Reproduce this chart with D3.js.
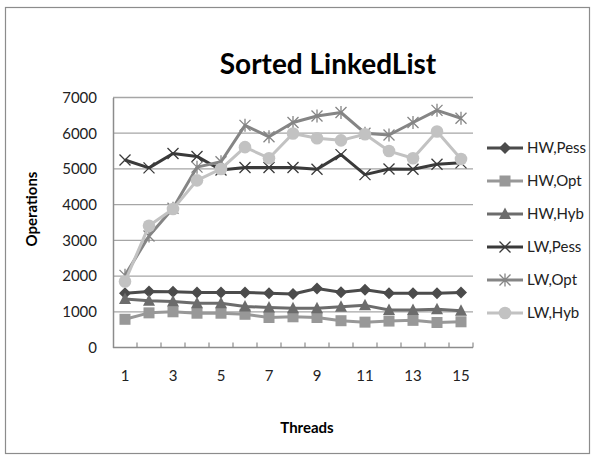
<!DOCTYPE html>
<html>
<head>
<meta charset="utf-8">
<script src="https://cdn.jsdelivr.net/npm/d3@7"></script>
<style>
  body { margin: 0; background: #fff; }
  svg { display: block; font-family: Lato, "Open Sans", sans-serif; }
</style>
</head>
<body>
<svg id="chart" width="595" height="456"></svg>
<script>
// Thread counts (x categories)
const threads = [1, 2, 3, 4, 5, 6, 7, 8, 9, 10, 11, 12, 13, 14, 15];
const xTickLabels = [1, 3, 5, 7, 9, 11, 13, 15];
const yTicks = [0, 1000, 2000, 3000, 4000, 5000, 6000, 7000];

// Operations per series
const hwPess = [1520, 1570, 1560, 1540, 1540, 1540, 1520, 1500, 1650, 1550, 1620, 1520, 1520, 1520, 1540];
const hwOpt  = [790, 970, 1000, 960, 960, 930, 840, 860, 840, 750, 710, 740, 760, 700, 720];
const hwHyb  = [1360, 1310, 1290, 1240, 1240, 1150, 1120, 1100, 1100, 1140, 1180, 1050, 1050, 1070, 1030];
const lwPess = [5250, 5030, 5430, 5350, 4970, 5040, 5040, 5040, 4990, 5400, 4840, 5000, 4990, 5130, 5170];
const lwOpt  = [2020, 3120, 3900, 5050, 5200, 6220, 5900, 6300, 6480, 6580, 6000, 5950, 6300, 6640, 6420];
const lwHyb  = [1850, 3410, 3880, 4680, 5000, 5610, 5300, 5990, 5860, 5800, 5970, 5500, 5300, 6050, 5280];

const seriesNames = ["HW,Pess", "HW,Opt", "HW,Hyb", "LW,Pess", "LW,Opt", "LW,Hyb"];
const seriesValues = [hwPess, hwOpt, hwHyb, lwPess, lwOpt, lwHyb];
const seriesColors = ["#4b4b4b", "#989898", "#6c6c6c", "#3a3a3a", "#858585", "#c2c2c2"];
const seriesMarkers = ["diamond", "square", "triangle", "x", "asterisk", "circle"];

const svg = d3.select("#chart");

// Outer chart frame
svg.append("rect")
  .attr("x", 5.5).attr("y", 7.5).attr("width", 584).attr("height", 446)
  .attr("fill", "#fff").attr("stroke", "#8c8c8c").attr("stroke-width", 1.2);

const plot = { left: 113, right: 473, top: 97.5, bottom: 347.5 };

const x = d3.scaleBand().domain(threads).range([plot.left, plot.right]);
const y = d3.scaleLinear().domain([0, 7000]).range([plot.bottom, plot.top]);
const cx = d => x(d) + x.bandwidth() / 2;

// Horizontal gridlines
svg.append("g")
  .selectAll("line").data(yTicks.filter(t => t > 0)).join("line")
  .attr("x1", plot.left).attr("x2", plot.right)
  .attr("y1", d => y(d)).attr("y2", d => y(d))
  .attr("stroke", "#a6a6a6").attr("stroke-width", 1.3);

// Y axis labels
const yAxis = d3.axisLeft(y).tickValues(yTicks).tickSize(0).tickPadding(16).tickFormat(d3.format("d"));
const yg = svg.append("g").attr("transform", `translate(${plot.left},0)`).call(yAxis);
yg.select(".domain").attr("stroke", "#8c8c8c").attr("stroke-width", 1.5);
yg.selectAll("text").attr("font-size", 15).attr("fill", "#222").attr("font-family", "Lato, sans-serif");

// X axis: ticks between categories pointing into the plot
const xg = svg.append("g").attr("transform", `translate(0,${plot.bottom})`);
xg.append("line").attr("x1", plot.left).attr("x2", plot.right).attr("y1", 0).attr("y2", 0)
  .attr("stroke", "#8c8c8c").attr("stroke-width", 1.5);
xg.selectAll("line.tick").data(threads).join("line").attr("class", "tick")
  .attr("x1", d => x(d) + x.bandwidth()).attr("x2", d => x(d) + x.bandwidth())
  .attr("y1", 0).attr("y2", -5)
  .attr("stroke", "#8c8c8c").attr("stroke-width", 1.2);
xg.selectAll("text").data(xTickLabels).join("text")
  .attr("x", d => cx(d)).attr("y", 33)
  .attr("text-anchor", "middle").attr("font-size", 15).attr("fill", "#222")
  .text(d => d);

// Titles
svg.append("text").attr("x", 328).attr("y", 74).attr("text-anchor", "middle")
  .attr("font-size", 28).attr("font-weight", "bold").attr("fill", "#000")
  .text("Sorted LinkedList");
svg.append("text").attr("x", 307).attr("y", 433).attr("text-anchor", "middle")
  .attr("font-size", 15).attr("font-weight", "bold").attr("fill", "#000")
  .text("Threads");
svg.append("text").attr("transform", "translate(37,209) rotate(-90)").attr("text-anchor", "middle")
  .attr("font-size", 15).attr("font-weight", "bold").attr("fill", "#000")
  .text("Operations");

// Marker drawing
function drawMarker(g, type, color, px, py) {
  if (type === "diamond") {
    g.append("path").attr("d", `M${px},${py - 6}L${px + 6},${py}L${px},${py + 6}L${px - 6},${py}Z`).attr("fill", color);
  } else if (type === "square") {
    g.append("rect").attr("x", px - 5.5).attr("y", py - 5.5).attr("width", 11).attr("height", 11).attr("fill", color);
  } else if (type === "triangle") {
    g.append("path").attr("d", `M${px},${py - 6.5}L${px + 6},${py + 5}L${px - 6},${py + 5}Z`).attr("fill", color);
  } else if (type === "x") {
    g.append("path").attr("d", `M${px - 5.5},${py - 5.5}L${px + 5.5},${py + 5.5}M${px - 5.5},${py + 5.5}L${px + 5.5},${py - 5.5}`)
      .attr("stroke", color).attr("stroke-width", 1.3).attr("fill", "none");
  } else if (type === "asterisk") {
    g.append("path").attr("d", `M${px - 5.5},${py - 5.5}L${px + 5.5},${py + 5.5}M${px - 5.5},${py + 5.5}L${px + 5.5},${py - 5.5}M${px},${py - 6.5}L${px},${py + 6.5}`)
      .attr("stroke", color).attr("stroke-width", 1.3).attr("fill", "none");
  } else if (type === "circle") {
    g.append("circle").attr("cx", px).attr("cy", py).attr("r", 6.3).attr("fill", color);
  }
}

const line = d3.line().x((d, i) => cx(threads[i])).y(d => y(d));

seriesValues.forEach((vals, si) => {
  const g = svg.append("g");
  g.append("path").attr("d", line(vals)).attr("fill", "none")
    .attr("stroke", seriesColors[si]).attr("stroke-width", 3).attr("stroke-linejoin", "round");
  vals.forEach((v, i) => drawMarker(g, seriesMarkers[si], seriesColors[si], cx(threads[i]), y(v)));
});

// Legend
const legend = svg.append("g");
seriesNames.forEach((name, i) => {
  const ly = 148 + i * 33;
  const g = legend.append("g");
  g.append("line").attr("x1", 487).attr("x2", 523).attr("y1", ly).attr("y2", ly)
    .attr("stroke", seriesColors[i]).attr("stroke-width", 3);
  drawMarker(g, seriesMarkers[i], seriesColors[i], 505, ly);
  g.append("text").attr("x", 527).attr("y", ly).attr("dy", "0.35em")
    .attr("font-size", 15).attr("fill", "#222").text(name);
});
</script>
</body>
</html>
